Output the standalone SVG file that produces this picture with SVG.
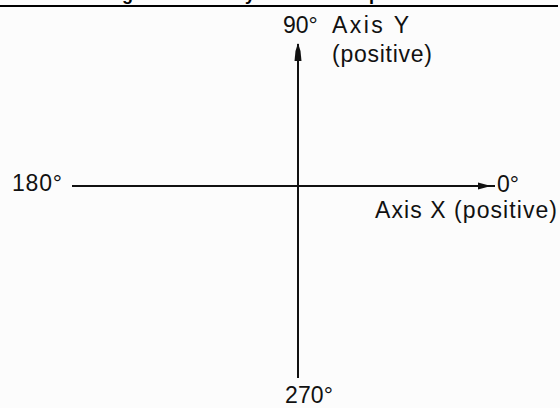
<svg xmlns="http://www.w3.org/2000/svg" width="560" height="408" viewBox="0 0 560 408">
  <style>
    .lbl { font-family: "Liberation Sans", Arial, sans-serif; font-size: 23px; fill: #111; }
    .title { font-family: "Liberation Sans", Arial, sans-serif; font-size: 18px; font-weight: bold; fill: #000; }
    .axis { stroke: #111; stroke-width: 2; fill: none; }
    .head { fill: #111; }
  </style>
  <rect x="0" y="0" width="560" height="408" fill="#fcfcfc"/>
  <g id="title">
    <text class="title" x="98" y="-0.5">Angle direction by the axis and position</text>
    <rect x="0" y="5" width="558" height="2" fill="#000"/>
  </g>
  <g id="connectors">
    <path id="axis-x" class="axis" d="M72,186 H495"/>
    <polygon class="head" points="478,182.5 491,186 478,189.5"/>
    <path id="axis-y" class="axis" d="M298,378 V44"/>
    <polygon class="head" points="298,43 300.5,51 301.5,61 294.5,61 295.5,51"/>
  </g>
  <g id="label-90">
    <text class="lbl" x="283" y="33">90°</text>
  </g>
  <g id="label-axis-y">
    <text class="lbl" x="332" y="33" textLength="77" lengthAdjust="spacing">Axis Y</text>
    <text class="lbl" x="332" y="62" textLength="100" lengthAdjust="spacing">(positive)</text>
  </g>
  <g id="label-180">
    <text class="lbl" x="12" y="191" textLength="50" lengthAdjust="spacing">180°</text>
  </g>
  <g id="label-0">
    <text class="lbl" x="497" y="192">0°</text>
  </g>
  <g id="label-axis-x">
    <text class="lbl" x="375" y="218" textLength="182" lengthAdjust="spacing">Axis X (positive)</text>
  </g>
  <g id="label-270">
    <text class="lbl" x="285" y="403" textLength="48" lengthAdjust="spacing">270°</text>
  </g>
</svg>
